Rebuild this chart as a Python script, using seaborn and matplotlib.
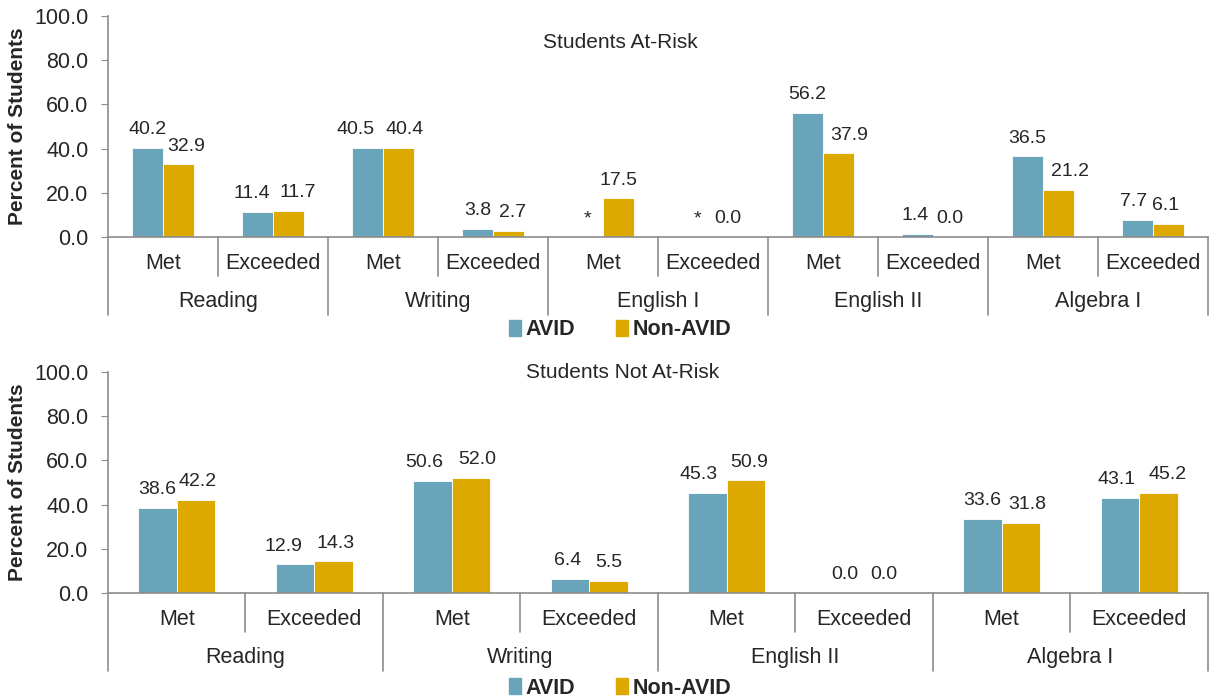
import numpy as np
import pandas as pd
import matplotlib
matplotlib.use('Agg')
import matplotlib.pyplot as plt
import seaborn as sns
from matplotlib.patches import Patch

# Data
levels = ['Met', 'Exceeded']
groups = ['AVID', 'Non-AVID']

top_subjects = ['Reading', 'Writing', 'English I', 'English II', 'Algebra I']
top_avid = [40.2, 11.4, 40.5, 3.8, None, None, 56.2, 1.4, 36.5, 7.7]   # None = suppressed (*)
top_non = [32.9, 11.7, 40.4, 2.7, 17.5, 0.0, 37.9, 0.0, 21.2, 6.1]

bot_subjects = ['Reading', 'Writing', 'English II', 'Algebra I']
bot_avid = [38.6, 12.9, 50.6, 6.4, 45.3, 0.0, 33.6, 43.1]
bot_non = [42.2, 14.3, 52.0, 5.5, 50.9, 0.0, 31.8, 45.2]

# horizontal nudges (pixels) of the value labels, like Excel's placement
top_nudge = [[0, -6, -12, 0, 0, 0, 0, -2, 0, -4],
             [8, 9, 6, 4, 0, 0, 11, 2, 12, -3]]
bot_nudge = [[0, -11, -8, -2, -9, 0, 0, -3],
             [2, 2, 6, 0, 3, 0, 6, 9]]

colors = {'AVID': '#6AA4BA', 'Non-AVID': '#DDA900'}
grey = '#8C8C8C'

sns.set_style('white')
plt.rcParams['font.family'] = ['Liberation Sans', 'DejaVu Sans']


def make_df(subjects, avid, non):
    rows = []
    for i, subj in enumerate(subjects):
        for j, lev in enumerate(levels):
            k = i * 2 + j
            rows.append({'cat': f'{subj}|{lev}', 'group': 'AVID', 'value': avid[k]})
            rows.append({'cat': f'{subj}|{lev}', 'group': 'Non-AVID', 'value': non[k]})
    df = pd.DataFrame(rows)
    df['plot_value'] = df['value'].astype(float).fillna(0)
    return df


def draw_panel(ax, subjects, avid, non, nudge):
    df = make_df(subjects, avid, non)
    order = [f'{s}|{l}' for s in subjects for l in levels]
    sns.barplot(data=df, x='cat', y='plot_value', hue='group', order=order,
                hue_order=groups, palette=colors, saturation=1, width=0.56, ax=ax,
                edgecolor='white', linewidth=0.6, legend=False)
    pad = 7
    for cont, vals, dxs in zip(ax.containers, [avid, non], nudge):
        labels = ['*' if v is None else f'{v:.1f}' for v in vals]
        anns = ax.bar_label(cont, labels=labels, padding=pad, fontsize=14)
        for ann, dx in zip(anns, dxs):
            ann.xyann = (dx * 0.72, pad)

    n = len(order)
    ax.set_xlim(-0.5, n - 0.5)
    ax.set_ylim(0, 100)
    ax.set_yticks(np.arange(0, 101, 20))
    ax.set_yticklabels([f'{t:.1f}' for t in np.arange(0, 101, 20)], fontsize=15.5)
    ax.set_xticks([])
    ax.set_xlabel('')
    ax.set_ylabel('Percent of Students', fontsize=15, fontweight='bold')
    ax.yaxis.set_label_coords(-0.074, 0.5)
    ax.tick_params(axis='y', length=5, color=grey, direction='out', left=True, pad=9)
    for side in ['top', 'right']:
        ax.spines[side].set_visible(False)
    for side in ['left', 'bottom']:
        ax.spines[side].set_color(grey)
        ax.spines[side].set_linewidth(1.2)

    trans = ax.get_xaxis_transform()
    # separators below the axis
    for b in range(n + 1):
        depth = -0.355 if b % 2 == 0 else -0.178
        ax.plot([b - 0.5, b - 0.5], [0, depth], transform=trans, color=grey,
                lw=1.2, clip_on=False)
    for k, cat in enumerate(order):
        ax.text(k, -0.118, cat.split('|')[1], transform=trans, ha='center',
                va='center', fontsize=15.5)
    for i, subj in enumerate(subjects):
        ax.text(2 * i + 0.5, -0.294, subj, transform=trans, ha='center',
                va='center', fontsize=15.5)


fig = plt.figure(figsize=(12.09, 7.0), dpi=100)
ax1 = fig.add_axes([0.0893, 0.6614, 0.9097, 0.3157])
ax2 = fig.add_axes([0.0893, 0.1529, 0.9097, 0.3157])

draw_panel(ax1, top_subjects, top_avid, top_non, top_nudge)
draw_panel(ax2, bot_subjects, bot_avid, bot_non, bot_nudge)

fig.text(0.513, 0.94, 'Students At-Risk', ha='center', va='center', fontsize=15)
fig.text(0.515, 0.468, 'Students Not At-Risk', ha='center', va='center', fontsize=15)

handles = [Patch(color=colors[g], label=g) for g in groups]
for ypos in [0.529, 0.017]:
    fig.legend(handles=handles, loc='center', bbox_to_anchor=(0.513, ypos), ncol=2,
               frameon=False, handlelength=0.55, handleheight=0.75, handletextpad=0.2,
               columnspacing=1.9, prop={'size': 15.5, 'weight': 'bold'})

fig.savefig('out.png', dpi=100)
